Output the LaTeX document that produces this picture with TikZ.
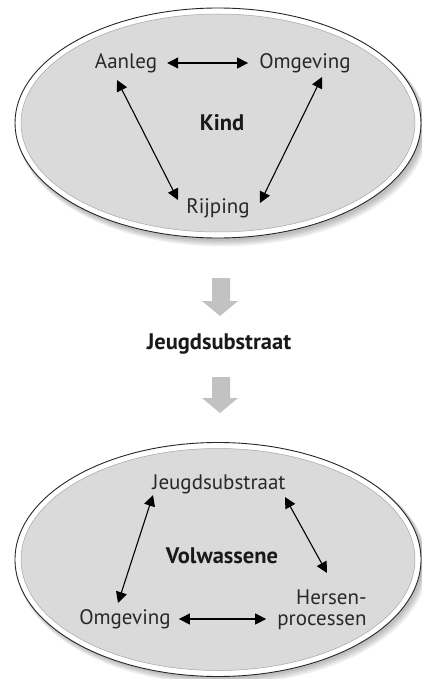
\documentclass[tikz,border=0pt]{standalone}
\usepackage{fontspec}
\setmainfont{PT Sans}
\usetikzlibrary{arrows.meta}
\definecolor{ellfill}{RGB}{218,218,218}
\definecolor{bigarrow}{RGB}{194,194,194}
\definecolor{txt}{RGB}{40,40,40}
\begin{document}
\begin{tikzpicture}[x=1pt,y=-1pt,
  lbl/.style={font=\fontsize{21}{21}\selectfont, inner sep=2pt, text=txt, align=right},
  ttl/.style={font=\fontsize{22.5}{24}\selectfont\bfseries, inner sep=2pt, text=black!90},
  link/.style={line width=1.1pt, {Triangle[length=11pt,width=11pt]}-{Triangle[length=11pt,width=11pt]}},
  shadowell/.style={fill=black, opacity=0.07},
  outerell/.style={line width=0.9pt, draw=black!85, fill=white},
  innerell/.style={draw=gray!70, line width=0.5pt, fill=ellfill},
  fatarrow/.style={fill=bigarrow}]
\useasboundingbox (0,0) rectangle (422,679);

% ---- top ellipse ----
\foreach \d in {2,4,6,8}
  \fill[shadowell] (219+\d*0.4,124+\d*0.6) ellipse [x radius=203+\d*0.3, y radius=115+\d*0.3];
\draw[outerell] (218,123) ellipse [x radius=203, y radius=115];
\draw[innerell] (218,123) ellipse [x radius=197, y radius=109];

\node[lbl] (aanleg) at (126,63) {Aanleg};
\node[lbl] (omg1) at (305,63) {Omgeving};
\node[ttl] (kind) at (222,123) {Kind};
\node[lbl] (rijping) at (218,208) {Rijping};

\draw[link, shorten <=8pt, shorten >=9pt] (aanleg.east) -- (omg1.west);
\draw[link] ([shift={(-9,17)}]aanleg.center) -- ([shift={(-40,-8)}]rijping.center);
\draw[link] ([shift={(17,14)}]omg1.center) -- ([shift={(42,-5)}]rijping.center);

% ---- middle ----
\fill[fatarrow] (212,278) -- (230,278) -- (230,301) -- (238,301) -- (220,316) -- (202,301) -- (212,301) -- cycle;
\node[ttl] (jeugd) at (219,344) {Jeugdsubstraat};
\fill[fatarrow] (212,377) -- (230,377) -- (230,398) -- (238,398) -- (220,413) -- (202,398) -- (212,398) -- cycle;

% ---- bottom ellipse ----
\foreach \d in {2,4,6,8}
  \fill[shadowell] (219+\d*0.4,560+\d*0.6) ellipse [x radius=203+\d*0.3, y radius=117+\d*0.3];
\draw[outerell] (218,559.5) ellipse [x radius=203, y radius=117];
\draw[innerell] (218,559.5) ellipse [x radius=197, y radius=111];

\node[lbl] (jeugd2) at (219,484) {Jeugdsubstraat};
\node[ttl] (volw) at (222,556) {Volwassene};
\node[lbl] (hersen) at (322,610) {Hersen-\\processen};
\node[lbl] (omg2) at (125,619) {Omgeving};

\draw[link, shorten <=6pt, shorten >=9pt] (omg2.east) -- (hersen.west |- omg2.east);
\draw[link] ([shift={(-66,11)}]jeugd2.center) -- ([shift={(-7,-16)}]omg2.center);
\draw[link] ([shift={(66,13)}]jeugd2.center) -- ([shift={(5,-37)}]hersen.center);
\end{tikzpicture}
\end{document}
